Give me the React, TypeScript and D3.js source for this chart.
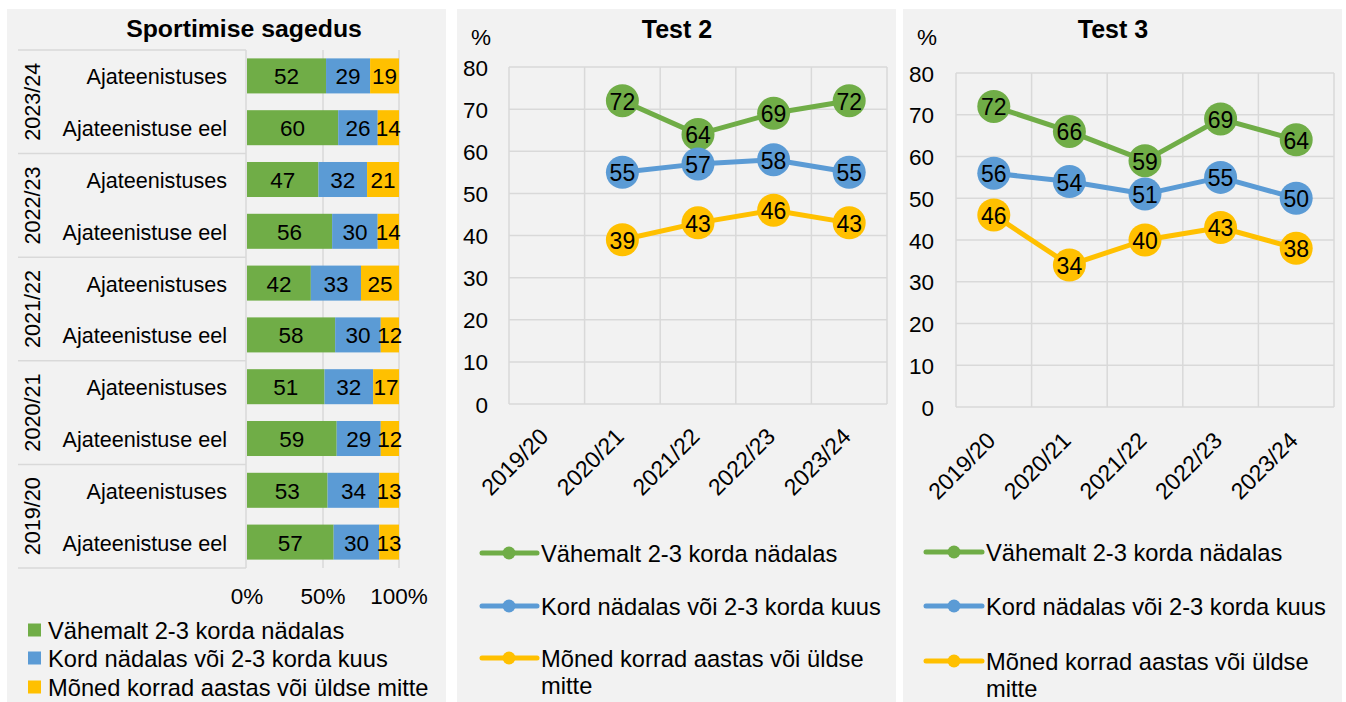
import React from "react";
import * as d3 from "d3";

// ---------- DATA ----------
const SERIES_NAMES = [
  "Vähemalt 2-3 korda nädalas",
  "Kord nädalas või 2-3 korda kuus",
  "Mõned korrad aastas või üldse mitte",
];
const BAR_YEARS = ["2023/24", "2022/23", "2021/22", "2020/21", "2019/20"];
const BAR_GROUPS = ["Ajateenistuses", "Ajateenistuse eel"];
const BAR_GREEN = [52, 60, 47, 56, 42, 58, 51, 59, 53, 57];
const BAR_BLUE = [29, 26, 32, 30, 33, 30, 32, 29, 34, 30];
const BAR_YELLOW = [19, 14, 21, 14, 25, 12, 17, 12, 13, 13];
const BAR_TICKS = [0, 50, 100];

const LINE_YEARS = ["2019/20", "2020/21", "2021/22", "2022/23", "2023/24"];
const T2_GREEN = [null, 72, 64, 69, 72];
const T2_BLUE = [null, 55, 57, 58, 55];
const T2_YELLOW = [null, 39, 43, 46, 43];
const T3_GREEN = [72, 66, 59, 69, 64];
const T3_BLUE = [56, 54, 51, 55, 50];
const T3_YELLOW = [46, 34, 40, 43, 38];
const LINE_TICKS = [0, 10, 20, 30, 40, 50, 60, 70, 80];

// ---------- STYLE ----------
const FONT = "'Liberation Sans', Arial, sans-serif";
const COLORS = ["#70ad47", "#5b9bd5", "#ffc000"];
const BG = "#f2f2f2";
const GRID = "#d9d9d9";

function BarPanel() {
  const rows = BAR_YEARS.flatMap((y) => BAR_GROUPS.map((g) => `${y}|${g}`));
  const table = rows.map((r, i) => ({
    key: r,
    g: BAR_GREEN[i],
    b: BAR_BLUE[i],
    y: BAR_YELLOW[i],
  }));
  const y = d3.scaleBand().domain(rows).range([50, 568]).paddingInner(0.324).paddingOuter(0.162);
  const yg = d3.scaleBand().domain(BAR_YEARS).range([50, 568]);
  const x = d3.scaleLinear().domain([0, 100]).range([247, 399]);
  const stack = d3.stack<any>().keys(["g", "b", "y"])(table);
  const bw = y.bandwidth();
  const legY = [630, 658, 687];

  return (
    <g>
      <rect x={7} y={9} width={439} height={693} fill={BG} />
      <text x={244} y={37} textAnchor="middle" fontSize={24.8} fontWeight="bold" fontFamily={FONT}>
        Sportimise sagedus
      </text>
      {BAR_TICKS.filter((t) => t > 0).map((t) => (
        <line key={t} x1={x(t)} x2={x(t)} y1={50} y2={568} stroke={GRID} strokeWidth={1.5} />
      ))}
      <line x1={246} x2={246} y1={50} y2={568} stroke={GRID} strokeWidth={1.5} />
      {[...BAR_YEARS.map((yr) => yg(yr) as number), 568].map((v, i) => (
        <line key={i} x1={18} x2={246} y1={v} y2={v} stroke={GRID} strokeWidth={1.5} />
      ))}
      {stack.map((s, si) =>
        s.map((d: any, i) => (
          <rect
            key={si + "-" + i}
            x={x(d[0])}
            width={x(d[1]) - x(d[0])}
            y={y(rows[i])}
            height={bw}
            fill={COLORS[si]}
          />
        ))
      )}
      {stack.map((s, si) =>
        s.map((d: any, i) => (
          <text
            key={"l" + si + "-" + i}
            x={(x(d[0]) + x(d[1])) / 2}
            y={(y(rows[i]) as number) + bw / 2 + 1}
            textAnchor="middle"
            dominantBaseline="central"
            fontSize={22.5}
            fontFamily={FONT}
          >
            {d[1] - d[0]}
          </text>
        ))
      )}
      {rows.map((r) => (
        <text
          key={"c" + r}
          x={227}
          y={(y(r) as number) + bw / 2 + 1}
          textAnchor="end"
          dominantBaseline="central"
          fontSize={21.6}
          fontFamily={FONT}
        >
          {r.split("|")[1]}
        </text>
      ))}
      {BAR_YEARS.map((yr) => (
        <text
          key={"yr" + yr}
          transform={`translate(32,${(yg(yr) as number) + yg.bandwidth() / 2}) rotate(-90)`}
          textAnchor="middle"
          dominantBaseline="central"
          fontSize={21.6}
          fontFamily={FONT}
        >
          {yr}
        </text>
      ))}
      {BAR_TICKS.map((t) => (
        <text key={"t" + t} x={x(t)} y={604} textAnchor="middle" fontSize={22.5} fontFamily={FONT}>
          {t}%
        </text>
      ))}
      {SERIES_NAMES.map((n, i) => (
        <g key={n}>
          <rect x={28} y={legY[i] - 6.5} width={13} height={13} fill={COLORS[i]} />
          <text x={48} y={legY[i] + 1} dominantBaseline="central" fontSize={23.7} fontFamily={FONT}>
            {n}
          </text>
        </g>
      ))}
    </g>
  );
}

type LineCfg = {
  panelL: number;
  panelR: number;
  title: string;
  titleX: number;
  pctX: number;
  l: number;
  r: number;
  t: number;
  b: number;
  tickR: number;
  labelDY: number;
  legLine: [number, number];
  legMarker: number;
  legText: number;
  legRows: number[];
  series: (number | null)[][];
};

function LinePanel({ cfg }: { cfg: LineCfg }) {
  const x = d3.scaleBand().domain(LINE_YEARS).range([cfg.l, cfg.r]);
  const y = d3.scaleLinear().domain([0, 80]).range([cfg.b, cfg.t]);
  const cx = (i: number) => (x(LINE_YEARS[i]) as number) + x.bandwidth() / 2;
  const line = d3
    .line<number | null>()
    .defined((d) => d != null)
    .x((_, i) => cx(i))
    .y((d) => y(d as number));
  return (
    <g>
      <rect x={cfg.panelL} y={9} width={cfg.panelR - cfg.panelL} height={693} fill={BG} />
      <text x={cfg.titleX} y={38} textAnchor="middle" fontSize={25} fontWeight="bold" fontFamily={FONT}>
        {cfg.title}
      </text>
      <text x={cfg.pctX} y={45} textAnchor="middle" fontSize={22.5} fontFamily={FONT}>
        %
      </text>
      {LINE_TICKS.map((t) => (
        <g key={t}>
          <line x1={cfg.l} x2={cfg.r} y1={y(t)} y2={y(t)} stroke={GRID} strokeWidth={1.5} />
          <text
            x={cfg.tickR}
            y={y(t) + 1}
            textAnchor="end"
            dominantBaseline="central"
            fontSize={22.5}
            fontFamily={FONT}
          >
            {t}
          </text>
        </g>
      ))}
      {[...LINE_YEARS.map((c) => x(c) as number), cfg.r].map((v, i) => (
        <line key={"v" + i} x1={v} x2={v} y1={cfg.t} y2={cfg.b} stroke={GRID} strokeWidth={1.5} />
      ))}
      {LINE_YEARS.map((c, i) => (
        <text
          key={"x" + c}
          transform={`translate(${cx(i) + 3},${cfg.b + cfg.labelDY}) rotate(-45)`}
          textAnchor="end"
          fontSize={23}
          fontFamily={FONT}
        >
          {c}
        </text>
      ))}
      {cfg.series.map((s, si) => (
        <g key={"s" + si}>
          <path d={line(s) || ""} fill="none" stroke={COLORS[si]} strokeWidth={5} strokeLinejoin="round" />
          {s.map((v, i) =>
            v == null ? null : (
              <g key={i}>
                <circle cx={cx(i)} cy={y(v)} r={16.5} fill={COLORS[si]} />
                <text
                  x={cx(i)}
                  y={y(v) + 1}
                  textAnchor="middle"
                  dominantBaseline="central"
                  fontSize={23}
                  fontFamily={FONT}
                >
                  {v}
                </text>
              </g>
            )
          )}
        </g>
      ))}
      {SERIES_NAMES.map((n, i) => {
        const ry = cfg.legRows[i];
        const words = i === 2 ? ["Mõned korrad aastas või üldse", "mitte"] : [n];
        return (
          <g key={"lg" + i}>
            <line x1={cfg.legLine[0]} x2={cfg.legLine[1]} y1={ry} y2={ry} stroke={COLORS[i]} strokeWidth={5} strokeLinecap="round" />
            <circle cx={cfg.legMarker} cy={ry} r={6.5} fill={COLORS[i]} />
            {words.map((w, wi) => (
              <text
                key={wi}
                x={cfg.legText}
                y={ry + 1 + wi * 27}
                dominantBaseline="central"
                fontSize={23.7}
                fontFamily={FONT}
              >
                {w}
              </text>
            ))}
          </g>
        );
      })}
    </g>
  );
}

const TEST2: LineCfg = {
  panelL: 457,
  panelR: 896,
  title: "Test 2",
  titleX: 677,
  pctX: 481,
  l: 509,
  r: 887,
  t: 67,
  b: 404,
  tickR: 488,
  labelDY: 34,
  legLine: [482, 537],
  legMarker: 509,
  legText: 541,
  legRows: [553, 606, 658],
  series: [T2_GREEN, T2_BLUE, T2_YELLOW],
};

const TEST3: LineCfg = {
  panelL: 903,
  panelR: 1342,
  title: "Test 3",
  titleX: 1113,
  pctX: 927,
  l: 956,
  r: 1334,
  t: 73,
  b: 407,
  tickR: 934,
  labelDY: 35,
  legLine: [926, 982],
  legMarker: 954,
  legText: 986,
  legRows: [552, 606, 661],
  series: [T3_GREEN, T3_BLUE, T3_YELLOW],
};

export default function App() {
  return (
    <div style={{ position: "absolute", left: 0, top: 0 }}>
      <svg width={1346} height={702} style={{ display: "block", background: "#fff" }}>
        <BarPanel />
        <LinePanel cfg={TEST2} />
        <LinePanel cfg={TEST3} />
      </svg>
    </div>
  );
}
